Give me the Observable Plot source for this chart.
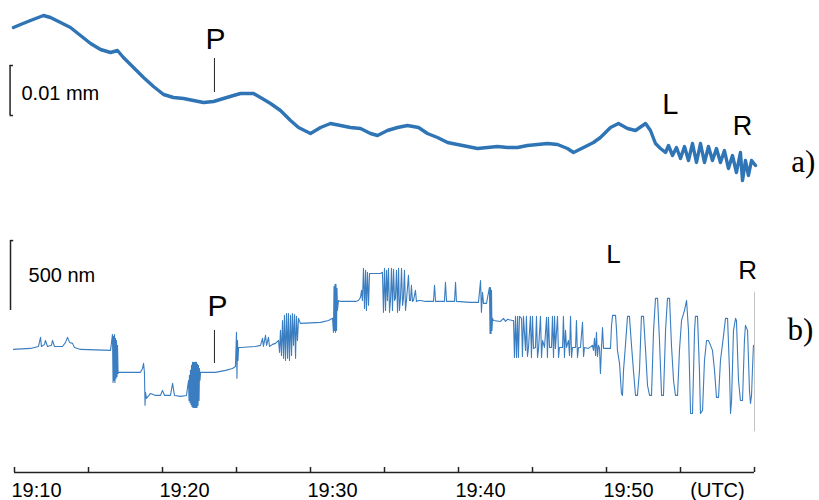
<!DOCTYPE html>
<html><head><meta charset="utf-8">
<script src="https://cdn.jsdelivr.net/npm/d3@7"></script>
<script src="https://cdn.jsdelivr.net/npm/@observablehq/plot@0.6"></script>
<style>body{margin:0;background:#fff}svg{display:block}#chart{width:819px;height:500px;overflow:hidden}</style>
</head><body><div id="chart"></div>
<script>
// time in minutes after 19:10 UTC
// trace a): displacement in micrometres
const traceA = [
[-0.07,14.6],[0.41,15.2],[1.08,16.0],[1.96,17.0],[2.43,16.6],[3.11,15.6],[3.78,14.6],[4.46,13.0],[5.14,11.4],[5.81,10.2],
[6.49,9.6],[6.96,10.0],[7.36,8.6],[8.04,6.6],[8.72,4.6],[9.39,2.8],[10.07,1.2],[10.74,0.6],[11.42,0.4],[12.09,0],
[12.77,-0.4],[13.45,-0.2],[14.12,0.4],[14.8,1.0],[15.27,1.4],[16.15,1.4],[16.62,0.6],[17.3,-0.6],[17.97,-2.0],[18.65,-4.0],
[19.19,-5.4],[20.0,-6.6],[20.68,-5.4],[21.35,-4.6],[22.03,-5.0],[22.7,-5.4],[23.38,-5.6],[24.05,-6.6],[24.53,-7.0],[25.2,-6.0],
[25.88,-5.4],[26.55,-5.0],[27.3,-5.4],[27.9,-6.6],[28.58,-7.4],[29.26,-8.4],[29.93,-8.8],[30.61,-9.2],[31.28,-9.6],[31.96,-9.4],
[32.64,-9.2],[33.31,-9.4],[33.99,-9.4],[34.66,-9.0],[35.34,-8.8],[36.01,-8.6],[36.69,-8.8],[37.36,-9.6],[37.77,-10.4],[38.45,-9.4],
[39.12,-8.4],[39.59,-7.4],[40.27,-5.4],[40.81,-4.6],[41.42,-5.6],[41.96,-6.0],[42.64,-4.6],[42.97,-6.0],[43.31,-8.6],[43.65,-9.6],
[43.99,-10.4],[44.19,-9.0],[44.46,-11.0],[44.73,-9.4],[45.0,-11.6],[45.27,-9.2],[45.54,-12.0],[45.81,-8.6],[46.08,-12.4],[46.35,-8.6],
[46.62,-12.4],[46.89,-9.2],[47.16,-12.0],[47.43,-9.6],[47.7,-12.4],[47.97,-10.0],[48.24,-13.6],[48.51,-11.0],[48.78,-14.4],[49.05,-10.4],
[49.19,-16.0],[49.39,-12.0],[49.59,-15.0],[49.8,-12.0],[50.07,-13.0]
];
// trace b): displacement in nanometres
const traceB = [
[-0.07,0],[1.08,7],[1.62,21],[1.76,86],[1.82,21],[2.03,36],[2.09,64],[2.23,21],[2.50,29],[2.57,64],[2.70,21],[3.24,21],[3.45,50],[3.58,86],[3.72,50],[3.92,43],[4.05,14],[4.46,0],[6.49,-7],
[6.62,107],[6.66,-236],[6.69,93],[6.72,-222],[6.76,107],[6.79,-236],[6.82,79],[6.86,-207],[6.89,64],[6.93,-193],[6.96,29],[7.0,-172],[7.03,-164],
[8.51,-164],[8.65,-136],[8.72,-100],[8.78,-164],[8.82,-400],[8.85,-307],[8.92,-350],[9.19,-315],[9.53,-329],[9.86,-329],[10.0,-293],[10.14,-329],[10.54,-329],[10.68,-243],[10.81,-329],[11.22,-336],[11.62,-329],
[11.76,-222],[11.79,-365],[11.82,-186],[11.86,-379],[11.89,-150],[11.93,-393],[11.96,-114],[11.99,-408],[12.03,-93],[12.06,-415],[12.09,-93],[12.13,-415],[12.16,-93],[12.20,-415],[12.23,-93],[12.26,-415],[12.30,-93],[12.33,-415],[12.36,-107],[12.40,-400],[12.43,-114],[12.47,-365],[12.50,-136],[12.53,-222],[12.57,-164],
[13.58,-164],[14.26,-150],[14.73,-136],[14.93,-122],[15.0,122],[15.03,-207],[15.07,64],[15.10,-79],[15.14,14],[15.27,14],[16.28,21],[16.62,29],[16.76,79],[16.82,21],[16.96,100],[17.03,29],[17.16,86],[17.23,21],[17.43,36],[17.64,43],
[17.84,64],[17.91,-21],[17.97,136],[18.04,-43],[18.11,207],[18.18,-64],[18.24,243],[18.31,-79],[18.38,257],[18.45,-64],[18.51,257],[18.58,-79],[18.65,243],[18.72,-43],[18.78,257],[18.85,29],[18.92,250],[18.99,-64],[19.05,236],[19.12,64],[19.19,222],[19.32,186],
[20.68,193],[21.22,207],[21.49,222],[21.55,122],[21.59,450],[21.62,136],[21.66,465],[21.69,122],[21.72,465],[21.76,136],[21.79,436],[21.82,279],[21.89,350],
[22.03,343],[23.04,343],[23.24,350],[23.38,372],[23.45,422],[23.51,350],[23.58,579],[23.65,293],[23.72,565],[23.78,279],[23.85,551],[23.92,315],[23.99,543],[24.05,543],[24.73,543],[24.86,551],
[24.93,265],[25.0,579],[25.07,279],[25.14,565],[25.20,350],[25.27,579],[25.34,265],[25.41,365],[25.47,579],[25.54,279],[25.61,572],[25.68,350],[25.74,365],[25.81,565],[25.88,265],[25.95,579],[26.01,279],[26.08,365],[26.15,579],[26.22,315],[26.28,365],[26.35,565],[26.42,279],[26.49,358],[26.62,529],[26.69,350],[26.76,350],[26.82,458],[26.89,343],[26.96,350],[27.09,422],[27.16,343],[27.30,350],[27.43,350],
[27.77,343],[28.31,343],[28.38,458],[28.45,343],[29.05,343],[29.12,479],[29.19,343],[29.73,343],[29.80,479],[29.86,343],[30.81,336],[31.35,336],[31.49,493],[31.55,265],[31.62,408],[31.69,329],[31.89,329],
[32.09,443],[32.13,114],[32.16,443],[32.20,114],[32.23,422],[32.26,136],[32.30,222],[32.36,207],[32.84,200],[33.04,222],[33.18,200],[33.31,215],[33.65,207],
[33.72,207],[33.78,-57],[33.85,236],[33.92,-57],[33.99,236],[34.05,-57],[34.12,236],[34.26,222],[34.32,-50],[34.39,236],[34.53,-7],[34.59,236],[34.66,-50],[34.73,14],[34.86,236],[34.93,-57],[35.0,236],[35.07,7],[35.20,14],[35.27,236],[35.34,-57],[35.41,7],[35.54,236],[35.61,-57],[35.68,64],[35.81,14],[35.95,229],[36.01,-57],[36.08,229],[36.15,14],[36.28,14],[36.35,236],[36.42,-57],[36.49,236],[36.55,7],[36.69,236],[36.76,-57],[36.82,14],[37.03,14],[37.09,236],[37.16,-57],[37.23,136],[37.30,14],[37.43,64],[37.50,-43],[37.57,236],[37.64,-57],[37.70,14],[37.91,14],[37.97,207],[38.04,-57],[38.11,14],[38.24,14],[38.38,193],[38.45,-50],[38.51,14],
[38.78,7],[39.05,29],[39.12,-7],[39.19,79],[39.26,-43],[39.32,122],[39.39,-50],[39.46,29],[39.53,7],[39.59,-172],[39.66,7],[39.73,157],[39.80,7],[40.27,7],
[40.34,172],[40.41,243],[40.61,243],[40.68,136],[40.74,-7],[40.88,-100],[41.01,-315],[41.08,-329],[41.15,-150],[41.28,29],[41.42,236],[41.55,236],[41.69,29],[41.82,-150],[41.96,-329],[42.09,-329],[42.23,-150],[42.36,236],[42.50,236],[42.64,-7],[42.77,-257],[42.91,-329],[43.04,-329],[43.18,136],[43.31,365],[43.45,365],[43.58,64],[43.72,-329],[43.85,-329],[43.99,136],[44.12,365],[44.26,365],[44.39,29],[44.53,-222],[44.66,-329],[44.80,-329],[44.93,-7],[45.07,207],[45.27,279],[45.41,350],[45.54,136],[45.68,-458],[45.81,-458],[45.95,136],[46.01,236],[46.15,236],[46.28,-150],[46.35,-458],[46.49,-436],[46.62,-79],[46.76,64],[46.89,64],[47.03,29],[47.16,-7],[47.30,-150],[47.43,-343],[47.57,-343],[47.70,-79],[47.91,100],[48.04,222],[48.18,222],[48.31,-150],[48.38,-458],[48.45,-365],[48.58,136],[48.72,222],[48.78,207],[48.92,-222],[49.05,-365],[49.19,-365],[49.32,64],[49.39,172],[49.53,136],[49.66,-293],[49.73,-386],[49.80,-329],[49.86,-150],[49.93,29]
];
const tickMinutes = [0,5,10,15,20,25,30,35,40,45,50];
const labelMinutes = [0,10,20,30,40];
const labelTexts = ["19:10","19:20","19:30","19:40","19:50"];
const unitMinute = 47.5;
const unitText = "(UTC)";
const scaleA = {value: 10, label: "0.01 mm"};   // micrometres
const scaleB = {value: 500, label: "500 nm"};   // nanometres
const phaseA = [{name:"P", t:13.58, v:12.2, size:30},{name:"L", t:44.32, v:-0.8, size:29},{name:"R", t:49.19, v:-5.2, size:27}];
const phaseB = [{name:"P", t:13.72, v:307, size:30},{name:"L", t:40.47, v:678, size:26},{name:"R", t:49.53, v:564, size:26}];

const blue = "#2f74b5";
const font = "Liberation Sans, Arial, sans-serif";

const plotA = Plot.plot({
  width: 819, height: 230, marginLeft: 14, marginRight: 65, marginTop: 0, marginBottom: 0,
  x: {domain: [0, 50], axis: null},
  y: {domain: [-26, 20], axis: null},
  style: {fontFamily: font, overflow: "visible", background: "#fff"},
  marks: [
    Plot.line(traceA, {x: d => d[0], y: d => d[1], stroke: blue, strokeWidth: 3.4, strokeLinejoin: "round"}),
    // scale bar
    Plot.ruleX([-0.30], {y1: 7, y2: 7 - scaleA.value, stroke: "#222", strokeWidth: 1.5}),
    Plot.ruleY([7, 7 - scaleA.value], {x1: -0.30, x2: -0.07, stroke: "#222", strokeWidth: 1.5}),
    Plot.text([scaleA.label], {x: 0.47, y: 1.4, textAnchor: "start", fontSize: 20, fill: "#000"}),
    // phase markers
    Plot.text(phaseA, {x: "t", y: "v", text: "name", fontSize: d => d.size, fill: "#000"}),
    Plot.ruleX([13.51], {y1: 8.4, y2: 1.6, stroke: "#222", strokeWidth: 1}),
    Plot.text(["a)"], {x: 53.3, y: -12.4, fontSize: 31, fontFamily: "Liberation Serif, Times New Roman, serif", fill: "#000"})
  ]
});

const plotB = Plot.plot({
  width: 819, height: 270, marginLeft: 14, marginRight: 65, marginTop: 0, marginBottom: 28,
  x: {domain: [0, 50], axis: null},
  y: {domain: [-880, 850], axis: null},
  style: {fontFamily: font, overflow: "visible", background: "#fff"},
  marks: [
    Plot.ruleX([50], {y1: 408, y2: -590, stroke: "#c4c4c4", strokeWidth: 1}),
    Plot.line(traceB, {x: d => d[0], y: d => d[1], stroke: "#3a7dc0", strokeWidth: 1.1}),
    // scale bar
    Plot.ruleX([-0.27], {y1: 778, y2: 778 - scaleB.value, stroke: "#222", strokeWidth: 1.5}),
    Plot.ruleY([778], {x1: -0.27, x2: -0.05, stroke: "#222", strokeWidth: 1.5}),
    Plot.text([scaleB.label], {x: 0.95, y: 528, textAnchor: "start", fontSize: 20, fill: "#000"}),
    // phase markers
    Plot.text(phaseB, {x: "t", y: "v", text: "name", fontSize: d => d.size, fill: "#000"}),
    Plot.ruleX([13.51], {y1: 135, y2: -101, stroke: "#222", strokeWidth: 1}),
    Plot.text(["b)"], {x: 53.1, y: 135, fontSize: 31, fontFamily: "Liberation Serif, Times New Roman, serif", fill: "#000"}),
    // time axis
    Plot.ruleY([-880], {stroke: "#222", strokeWidth: 1.5}),
    Plot.ruleX(tickMinutes, {y1: -880, y2: -844, stroke: "#222", strokeWidth: 1.5}),
    Plot.text(labelMinutes, {x: d => d, y: -880, text: (d, i) => labelTexts[i], dy: 18, dx: -3, textAnchor: "start", fontSize: 20, fill: "#000"}),
    Plot.text([unitText], {x: unitMinute, y: -880, dy: 18, fontSize: 20, fill: "#000"})
  ]
});

const chart = document.getElementById("chart");
chart.appendChild(plotA);
chart.appendChild(plotB);
</script>
</body></html>
